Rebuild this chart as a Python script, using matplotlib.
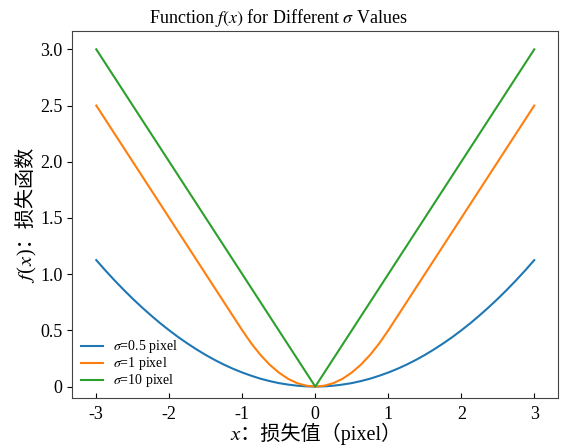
import matplotlib
matplotlib.use('Agg')
import matplotlib.pyplot as plt

# x samples and loss values
x_vals = [-3.0, -2.875, -2.75, -2.625, -2.5, -2.375, -2.25, -2.125, -2.0, -1.875, -1.75, -1.625,
          -1.5, -1.375, -1.25, -1.125, -1.0, -0.875, -0.75, -0.625, -0.5, -0.375, -0.25, -0.125,
          0.0,
          0.125, 0.25, 0.375, 0.5, 0.625, 0.75, 0.875, 1.0, 1.125, 1.25, 1.375, 1.5,
          1.625, 1.75, 1.875, 2.0, 2.125, 2.25, 2.375, 2.5, 2.625, 2.75, 2.875, 3.0]
loss_s05 = [1.125, 1.033, 0.945, 0.861, 0.781, 0.705, 0.633, 0.564, 0.5, 0.439, 0.383, 0.330,
            0.281, 0.236, 0.195, 0.158, 0.125, 0.096, 0.070, 0.049, 0.031, 0.018, 0.008, 0.002,
            0.0,
            0.002, 0.008, 0.018, 0.031, 0.049, 0.070, 0.096, 0.125, 0.158, 0.195, 0.236, 0.281,
            0.330, 0.383, 0.439, 0.5, 0.564, 0.633, 0.705, 0.781, 0.861, 0.945, 1.033, 1.125]
loss_s1 = [2.5, 2.375, 2.25, 2.125, 2.0, 1.875, 1.75, 1.625, 1.5, 1.375, 1.25, 1.125,
           1.0, 0.875, 0.75, 0.625, 0.5, 0.383, 0.281, 0.195, 0.125, 0.070, 0.031, 0.008,
           0.0,
           0.008, 0.031, 0.070, 0.125, 0.195, 0.281, 0.383, 0.5, 0.625, 0.75, 0.875, 1.0,
           1.125, 1.25, 1.375, 1.5, 1.625, 1.75, 1.875, 2.0, 2.125, 2.25, 2.375, 2.5]
loss_s10 = [3.0, 2.875, 2.75, 2.625, 2.5, 2.375, 2.25, 2.125, 2.0, 1.875, 1.75, 1.625,
            1.5, 1.375, 1.25, 1.125, 1.0, 0.875, 0.75, 0.625, 0.5, 0.375, 0.25, 0.125,
            0.0,
            0.125, 0.25, 0.375, 0.5, 0.625, 0.75, 0.875, 1.0, 1.125, 1.25, 1.375, 1.5,
            1.625, 1.75, 1.875, 2.0, 2.125, 2.25, 2.375, 2.5, 2.625, 2.75, 2.875, 3.0]
series_labels = [r'$\sigma$=0.5 pixel', r'$\sigma$=1 pixel', r'$\sigma$=10 pixel']

x_ticks = [-3, -2, -1, 0, 1, 2, 3]
x_ticklabels = ['-3', '-2', '-1', '0', '1', '2', '3']
y_ticks = [0, 0.5, 1.0, 1.5, 2.0, 2.5, 3.0]
y_ticklabels = ['0', '0.5', '1.0', '1.5', '2.0', '2.5', '3.0']

# serif latin, CJK glyphs from Noto, math italic letters from STIX
plt.rcParams['font.family'] = ['Liberation Serif', 'Noto Sans CJK SC', 'STIXGeneral']
plt.rcParams['mathtext.fontset'] = 'stix'

fig, ax = plt.subplots(figsize=(5.64, 4.48), dpi=100)
fig.subplots_adjust(left=0.128, right=0.99, top=0.93, bottom=0.112)

ax.plot(x_vals, loss_s05, color='#1f77b4', linewidth=1.5, label=series_labels[0])
ax.plot(x_vals, loss_s1, color='#ff7f0e', linewidth=1.5, label=series_labels[1])
ax.plot(x_vals, loss_s10, color='#2ca02c', linewidth=1.5, label=series_labels[2])

ax.set_xlim(-3.33, 3.33)
ax.set_ylim(-0.1, 3.16)
ax.set_xticks(x_ticks)
ax.set_xticklabels(x_ticklabels)
ax.set_yticks(y_ticks)
ax.set_yticklabels(y_ticklabels)
ax.tick_params(axis='x', direction='in', labelsize=13, pad=6)
ax.tick_params(axis='y', direction='out', labelsize=13)
for sp in ax.spines.values():
    sp.set_color('#444444')

ax.set_title(r'Function $f(x)$ for Different $\sigma$ Values', fontsize=13, pad=6, x=0.424)
ax.set_xlabel('\U0001d465：损失值（pixel）', fontsize=14.5, labelpad=0)
ax.set_ylabel('\U0001d453(\U0001d465)：损失函数', fontsize=14.5, labelpad=3)

ax.legend(loc='lower left', frameon=False, fontsize=10, handlelength=1.65,
          labelspacing=0.0, borderaxespad=0.2, handletextpad=0.7)

plt.savefig('out.png')
plt.close()
